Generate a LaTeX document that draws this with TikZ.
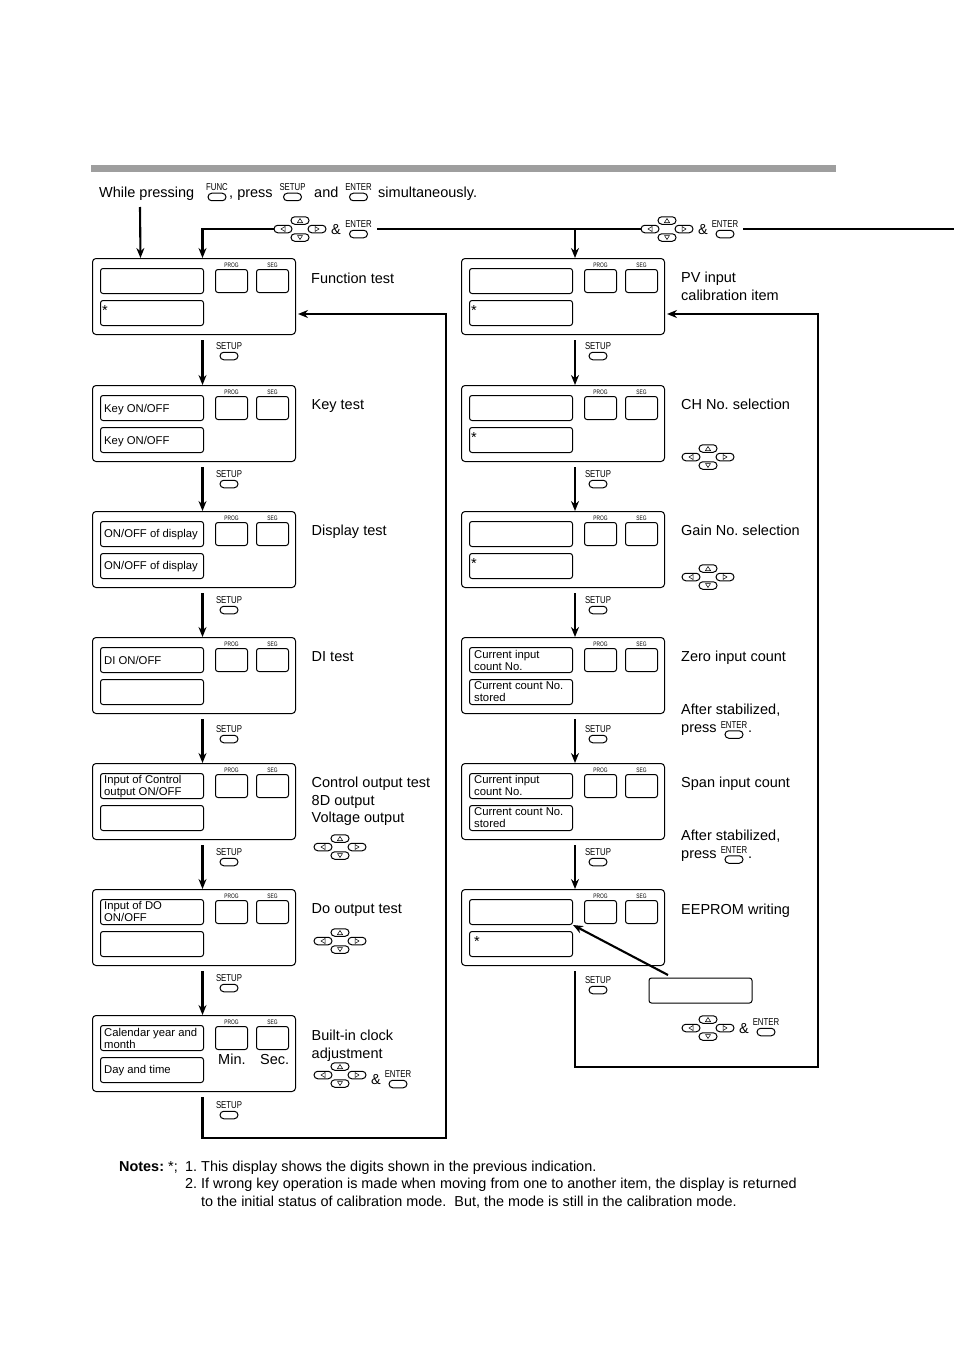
\documentclass[tikz,border=0pt]{standalone}
\usepackage{fontspec}
\setmainfont{Liberation Sans}
\frenchspacing
\usetikzlibrary{positioning, calc, arrows.meta, shapes.misc}
\definecolor{barcolor}{RGB}{158, 158, 158}

% key with its small caption above
\newcommand{\keybtn}[4]{%
    \node[keycap] (#1) at (#3, #4) {};
    \node[keycaption] (#1-t) at (#3, #4-9.5) {\scalebox{0.78}[1]{#2}};
}
% four arrow keys round a centre point
\newcommand{\padkeys}[3]{%
    \node[keycap] (#1-u) at (#2, #3-8.5) {};
    \node[keycap] (#1-d) at (#2, #3+8.5) {};
    \node[keycap] (#1-l) at (#2-17, #3) {};
    \node[keycap] (#1-r) at (#2+17, #3) {};
    \draw[line width=0.5pt] ($(#1-u)+(-2.5,2)$) -- ($(#1-u)+(2.5,2)$) -- ($(#1-u)+(0,-2)$) -- cycle;
    \draw[line width=0.5pt] ($(#1-d)+(-2.5,-2)$) -- ($(#1-d)+(2.5,-2)$) -- ($(#1-d)+(0,2)$) -- cycle;
    \draw[line width=0.5pt] ($(#1-l)+(2,-2.5)$) -- ($(#1-l)+(2,2.5)$) -- ($(#1-l)+(-2,0)$) -- cycle;
    \draw[line width=0.5pt] ($(#1-r)+(-2,-2.5)$) -- ($(#1-r)+(-2,2.5)$) -- ($(#1-r)+(2,0)$) -- cycle;
}

\begin{document}
\begin{tikzpicture}[
    x=1pt, y=-1pt,
    panelbox/.style={draw, rounded corners=3.5pt, line width=1pt, minimum width=203, minimum height=76, inner sep=0, anchor=north west},
    dispbox/.style={draw, rounded corners=2.5pt, line width=1pt, minimum width=103, minimum height=25, inner sep=0, anchor=north west},
    keybox/.style={draw, rounded corners=2.5pt, line width=1pt, minimum width=32, minimum height=23, inner sep=0, anchor=north west},
    keycap/.style={draw, rounded rectangle, line width=1pt, minimum width=18, minimum height=7.5, inner sep=0},
    keycaption/.style={inner sep=0, font=\fontsize{10}{10}\selectfont},
    tinycaption/.style={inner sep=0, font=\fontsize{6.5}{6.5}\selectfont},
    flowline/.style={line width=2.1pt},
    flowarrow/.style={flowline, -{Stealth[length=10pt, width=8pt]}},
    sidetext/.style={anchor=west, inner sep=0, align=left, text depth=0pt, font=\fontsize{14.5}{17.6}\selectfont},
    sidebase/.style={sidetext, anchor=base west},
    disptext/.style={anchor=west, inner sep=0, align=left, text depth=0pt, font=\fontsize{11.3}{12}\selectfont},
    notetext/.style={anchor=west, inner sep=0, text depth=0pt, font=\fontsize{14.42}{17}\selectfont}
]
    \useasboundingbox (0,0) rectangle (954,1351);

    % top bar and first line
    \fill[barcolor] (91,165) rectangle (836,172);
    \node[sidebase] (hd1) at (99,197) {While pressing};
    \keybtn{keyF}{FUNC}{217}{197}
    \node[sidebase] (hd2) at (229,197) {, press};
    \keybtn{keyS}{SETUP}{292.5}{197}
    \node[sidebase] (hd3) at (314,197) {and};
    \keybtn{keyE}{ENTER}{358.5}{197}
    \node[sidebase] (hd4) at (378,197) {simultaneously.};

    % panels: name / x / y / y of the SETUP key
    \foreach \n/\x/\y/\k in {L1/92/258/356, L2/92/385/484, L3/92/511/610, L4/92/637/739, L5/92/763/862, L6/92/889/988, L7/92/1015/1115,
                             R1/461/258/356, R2/461/385/484, R3/461/511/610, R4/461/637/739, R5/461/763/862, R6/461/889/990} {
        \node[panelbox] (\n) at (\x,\y) {};
        \node[dispbox] (\n a) at ($(\n.north west)+(8,10)$) {};
        \node[dispbox] (\n b) at ($(\n.north west)+(8,42)$) {};
        \node[keybox] (\n p) at ($(\n.north west)+(123,11)$) {};
        \node[keybox] (\n s) at ($(\n.north west)+(164,11)$) {};
        \node[tinycaption] (\n pt) at ($(\n p.north)+(0,-4)$) {\scalebox{0.75}[1]{PROG}};
        \node[tinycaption] (\n st) at ($(\n s.north)+(0,-4)$) {\scalebox{0.75}[1]{SEG}};
        \keybtn{\n key}{SETUP}{\x+137}{\k}
    }

    % text in the displays
    \node[disptext] (L2at) at ($(L2a.west)+(4,0.5)$) {Key ON/OFF};
    \node[disptext] (L2bt) at ($(L2b.west)+(4,0.5)$) {Key ON/OFF};
    \node[disptext] (L3at) at ($(L3a.west)+(4,-0.5)$) {ON/OFF of display};
    \node[disptext] (L3bt) at ($(L3b.west)+(4,-1)$) {ON/OFF of display};
    \node[disptext] (L4at) at ($(L4a.west)+(4,0)$) {DI ON/OFF};
    \node[disptext] (L5at) at ($(L5a.west)+(4,-1)$) {Input of Control\\output ON/OFF};
    \node[disptext] (L6at) at ($(L6a.west)+(4,-1)$) {Input of DO\\ON/OFF};
    \node[disptext] (L7at) at ($(L7a.west)+(4,0)$) {Calendar year and\\month};
    \node[disptext] (L7bt) at ($(L7b.west)+(4,-1)$) {Day and time};
    \node[disptext] (R4at) at ($(R4a.west)+(5,0)$) {Current input\\count No.};
    \node[disptext] (R4bt) at ($(R4b.west)+(5,0)$) {Current count No.\\stored};
    \node[disptext] (R5at) at ($(R5a.west)+(5,-1)$) {Current input\\count No.};
    \node[disptext] (R5bt) at ($(R5b.west)+(5,0)$) {Current count No.\\stored};
    \foreach \n in {L1,R1,R2,R3} {
        \node[sidetext] (\n star) at ($(\n b.west)+(2,-2)$) {*};
    }
    \node[sidetext] (R6star) at ($(R6b.west)+(5,-2)$) {*};
    \node[sidetext] (L7min) at (218,1059) {Min.};
    \node[sidetext] (L7sec) at (260,1059) {Sec.};

    % labels beside the panels
    \node[sidetext] (L1t) at (311,278) {Function test};
    \node[sidetext] (L2t) at (311.5,405) {Key test};
    \node[sidetext] (L3t) at (311.5,530) {Display test};
    \node[sidetext] (L4t) at (311.5,657) {DI test};
    \node[sidetext] (L5t) at (311.5,800) {Control output test\\8D output\\Voltage output};
    \node[sidetext] (L6t) at (311.5,909) {Do output test};
    \node[sidetext] (L7t) at (311.5,1044) {Built-in clock\\adjustment};
    \node[sidetext] (R1t) at (681,286.5) {PV input\\calibration item};
    \node[sidetext] (R2t) at (681,404) {CH No. selection};
    \node[sidetext] (R3t) at (681,530) {Gain No. selection};
    \node[sidetext] (R4t) at (681,656) {Zero input count};
    \node[sidetext] (R4u) at (681,709) {After stabilized,};
    \node[sidebase] (R4v) at (681,732) {press};
    \keybtn{keyR4}{ENTER}{734}{734.5}
    \node[sidebase] (R4w) at (748,732) {.};
    \node[sidetext] (R5t) at (681,782) {Span input count};
    \node[sidetext] (R5u) at (681,835) {After stabilized,};
    \node[sidebase] (R5v) at (681,858) {press};
    \keybtn{keyR5}{ENTER}{734}{859.5}
    \node[sidebase] (R5w) at (748,858) {.};
    \node[sidetext] (R6t) at (681,909) {EEPROM writing};

    % arrow keys
    \padkeys{padA}{300}{229}
    \node[sidetext] (ampA) at (331,229) {\&};
    \keybtn{keyA}{ENTER}{358.5}{234}
    \padkeys{padB}{667}{229}
    \node[sidetext] (ampB) at (698,229) {\&};
    \keybtn{keyB}{ENTER}{725}{234}
    \padkeys{padR2}{708}{457}
    \padkeys{padR3}{708}{577}
    \padkeys{padL5}{340}{847}
    \padkeys{padL6}{340}{941}
    \padkeys{padL7}{340}{1075}
    \node[sidetext] (ampL7) at (371,1079) {\&};
    \keybtn{keyL7}{ENTER}{398}{1084}
    \padkeys{padR6}{708}{1028}
    \node[sidetext] (ampR6) at (739,1028) {\&};
    \keybtn{keyR6}{ENTER}{766}{1032}

    % extra display under the last panel
    \node[dispbox] (eeprom) at (648.5,977.5) {};
    \coordinate (eepromtail) at (668,975);
    \draw[flowarrow] (eepromtail) -- (R6a.south east);

    % flow arrows
    \foreach \a/\b in {L1/L2, L2/L3, L3/L4, L4/L5, L5/L6, L6/L7} {
        \draw[flowarrow] ($(\a.south)+(8.5,5)$) -- ($(\b.north)+(8.5,0)$);
    }
    \foreach \a/\b in {R1/R2, R2/R3, R3/R4, R4/R5, R5/R6} {
        \draw[flowarrow] ($(\a.south)+(12,5)$) -- ($(\b.north)+(12,0)$);
    }
    \coordinate (startdn) at (140,207);
    \draw[flowarrow] (startdn) -- ($(L1.north)+(-53.5,0)$);
    \draw[flowarrow] (padA-l.west) -| ($(L1.north)+(8.5,0)$);
    \coordinate (topmid) at (377,229);
    \coordinate (topbranch) at (575,229);
    \draw[flowline] (topmid) -- (padB-l.west);
    \draw[flowarrow] (topbranch) -- ($(R1.north)+(12,0)$);
    \coordinate (topright) at (743,229);
    \coordinate (topend) at (954,229);
    \draw[flowline] (topright) -- (topend);

    % return lines
    \coordinate (retL) at (446,1138);
    \draw[flowarrow] ($(L7.south)+(8.5,5)$) |- (retL) |- ($(L1.east)+(2,17.5)$);
    \coordinate (retR) at (818,1067);
    \draw[flowarrow] ($(R6.south)+(12,5)$) |- (retR) |- ($(R1.east)+(2,17.5)$);

    % notes
    \node[notetext, font=\fontsize{14.42}{17}\selectfont\bfseries] (note0) at (119,1166.5) {Notes:};
    \node[notetext] (note1) at (168,1166) {\makebox[17pt][l]{*;}\makebox[16pt][l]{1.}This display shows the digits shown in the previous indication.};
    \node[notetext] (note2) at (185,1183) {\makebox[16pt][l]{2.}If wrong key operation is made when moving from one to another item, the display is returned};
    \node[notetext] (note3) at (201,1201) {to the initial status of calibration mode.\ \ But, the mode is still in the calibration mode.};
\end{tikzpicture}
\end{document}
